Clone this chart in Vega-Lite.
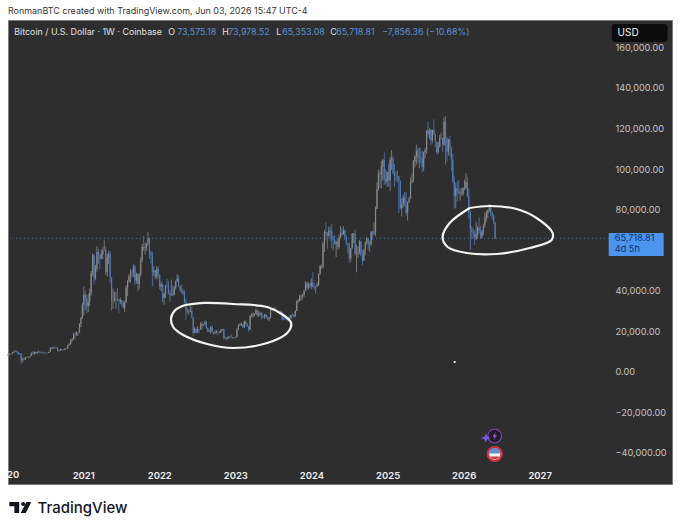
{"$schema":"https://vega.github.io/schema/vega-lite/v6.json","description":"Bitcoin weekly candles on a TradingView snapshot with two hand drawn rings","width":664,"height":464,"autosize":{"type":"none"},"padding":{"left":8,"top":20,"right":8,"bottom":46},"background":"#ffffff","view":{"fill":"#2e2e2e","stroke":"#7d7d7d","strokeWidth":1},
"title":{"text":"RonmanBTC created with TradingView.com, Jun 03, 2026 15:47 UTC-4","anchor":"start","frame":"group","offset":4,"fontSize":8.95,"fontWeight":"normal","font":"Inter","color":"#333333"},
"datasets":{
"candles":[
{"d":"2020-01-06","o":7760,"h":8860,"l":7670,"c":8180},{"d":"2020-01-13","o":8180,"h":8990,"l":8060,"c":8650},{"d":"2020-01-20","o":8650,"h":8800,"l":8250,"c":8600},{"d":"2020-01-27","o":8600,"h":9560,"l":8600,"c":9300},
{"d":"2020-02-03","o":9300,"h":9880,"l":9100,"c":9850},{"d":"2020-02-10","o":9850,"h":10500,"l":9700,"c":9900},{"d":"2020-02-17","o":9900,"h":10250,"l":9300,"c":9650},{"d":"2020-02-24","o":9650,"h":9700,"l":8400,"c":8530},
{"d":"2020-03-02","o":8530,"h":9190,"l":8450,"c":8900},{"d":"2020-03-09","o":8900,"h":8900,"l":3850,"c":5380},{"d":"2020-03-16","o":5380,"h":6900,"l":4450,"c":5830},{"d":"2020-03-23","o":5830,"h":6950,"l":5670,"c":5880},{"d":"2020-03-30","o":5880,"h":7200,"l":5860,"c":6770},
{"d":"2020-04-06","o":6770,"h":7460,"l":6770,"c":6860},{"d":"2020-04-13","o":6860,"h":7250,"l":6500,"c":7120},{"d":"2020-04-20","o":7120,"h":7770,"l":6800,"c":7700},{"d":"2020-04-27","o":7700,"h":9470,"l":7640,"c":8900},
{"d":"2020-05-04","o":8900,"h":10070,"l":8550,"c":8720},{"d":"2020-05-11","o":8720,"h":9950,"l":8120,"c":9680},{"d":"2020-05-18","o":9680,"h":9840,"l":8810,"c":8900},{"d":"2020-05-25","o":8900,"h":9740,"l":8640,"c":9450},
{"d":"2020-06-01","o":9450,"h":10400,"l":9300,"c":9670},{"d":"2020-06-08","o":9670,"h":10000,"l":9050,"c":9340},{"d":"2020-06-15","o":9340,"h":9590,"l":9000,"c":9300},{"d":"2020-06-22","o":9300,"h":9770,"l":8830,"c":9010},{"d":"2020-06-29","o":9010,"h":9300,"l":8900,"c":9070},
{"d":"2020-07-06","o":9070,"h":9450,"l":9020,"c":9300},{"d":"2020-07-13","o":9300,"h":9300,"l":9000,"c":9170},{"d":"2020-07-20","o":9170,"h":9800,"l":9100,"c":9700},{"d":"2020-07-27","o":9700,"h":12080,"l":9650,"c":11050},
{"d":"2020-08-03","o":11050,"h":11900,"l":10950,"c":11770},{"d":"2020-08-10","o":11770,"h":12070,"l":11150,"c":11850},{"d":"2020-08-17","o":11850,"h":12490,"l":11370,"c":11650},{"d":"2020-08-24","o":11650,"h":11800,"l":11150,"c":11700},{"d":"2020-08-31","o":11700,"h":12090,"l":9880,"c":10280},
{"d":"2020-09-07","o":10280,"h":10650,"l":9860,"c":10330},{"d":"2020-09-14","o":10330,"h":11170,"l":10200,"c":11080},{"d":"2020-09-21","o":11080,"h":11180,"l":10130,"c":10770},{"d":"2020-09-28","o":10770,"h":10950,"l":10370,"c":10670},
{"d":"2020-10-05","o":10670,"h":11500,"l":10520,"c":11380},{"d":"2020-10-12","o":11380,"h":11730,"l":11200,"c":11360},{"d":"2020-10-19","o":11360,"h":13240,"l":11350,"c":13030},{"d":"2020-10-26","o":13030,"h":14100,"l":12900,"c":13760},
{"d":"2020-11-02","o":13760,"h":15970,"l":13210,"c":15480},{"d":"2020-11-09","o":15480,"h":16490,"l":14830,"c":15980},{"d":"2020-11-16","o":15980,"h":18950,"l":15780,"c":18420},{"d":"2020-11-23","o":18420,"h":19480,"l":16200,"c":18180},{"d":"2020-11-30","o":18180,"h":19900,"l":17600,"c":19170},
{"d":"2020-12-07","o":19170,"h":19400,"l":17600,"c":19170},{"d":"2020-12-14","o":19170,"h":23800,"l":19000,"c":23480},{"d":"2020-12-21","o":23480,"h":27000,"l":21800,"c":26500},{"d":"2020-12-28","o":26500,"h":34000,"l":25800,"c":33000},
{"d":"2021-01-04","o":33000,"h":41950,"l":27700,"c":38200},{"d":"2021-01-11","o":38200,"h":40100,"l":30400,"c":36000},{"d":"2021-01-18","o":36000,"h":37850,"l":28850,"c":32100},{"d":"2021-01-25","o":32100,"h":38500,"l":29200,"c":34300},
{"d":"2021-02-01","o":34300,"h":41000,"l":32300,"c":39000},{"d":"2021-02-08","o":39000,"h":49700,"l":37400,"c":48600},{"d":"2021-02-15","o":48600,"h":58350,"l":47100,"c":57400},{"d":"2021-02-22","o":57400,"h":58000,"l":43000,"c":46200},
{"d":"2021-03-01","o":46200,"h":52640,"l":45000,"c":50900},{"d":"2021-03-08","o":50900,"h":61800,"l":49300,"c":59000},{"d":"2021-03-15","o":59000,"h":60600,"l":53200,"c":57400},{"d":"2021-03-22","o":57400,"h":58400,"l":50500,"c":55800},{"d":"2021-03-29","o":55800,"h":60200,"l":55500,"c":58000},
{"d":"2021-04-05","o":58000,"h":61300,"l":55500,"c":59800},{"d":"2021-04-12","o":59800,"h":64900,"l":59800,"c":60000},{"d":"2021-04-19","o":60000,"h":61700,"l":47500,"c":49000},{"d":"2021-04-26","o":49000,"h":58400,"l":47000,"c":56600},
{"d":"2021-05-03","o":56600,"h":59600,"l":53000,"c":58200},{"d":"2021-05-10","o":58200,"h":59600,"l":43800,"c":46400},{"d":"2021-05-17","o":46400,"h":46500,"l":30000,"c":34700},{"d":"2021-05-24","o":34700,"h":40900,"l":31000,"c":34700},{"d":"2021-05-31","o":34700,"h":39400,"l":34700,"c":35800},
{"d":"2021-06-07","o":35800,"h":39500,"l":31000,"c":35800},{"d":"2021-06-14","o":35800,"h":41300,"l":34800,"c":35600},{"d":"2021-06-21","o":35600,"h":35750,"l":28800,"c":34700},{"d":"2021-06-28","o":34700,"h":36600,"l":33300,"c":35300},
{"d":"2021-07-05","o":35300,"h":35300,"l":32100,"c":34200},{"d":"2021-07-12","o":34200,"h":34700,"l":31000,"c":31500},{"d":"2021-07-19","o":31500,"h":34800,"l":29300,"c":34200},{"d":"2021-07-26","o":34200,"h":42600,"l":34000,"c":41500},
{"d":"2021-08-02","o":41500,"h":45300,"l":37300,"c":44600},{"d":"2021-08-09","o":44600,"h":48100,"l":43800,"c":47000},{"d":"2021-08-16","o":47000,"h":50500,"l":43900,"c":49000},{"d":"2021-08-23","o":49000,"h":50500,"l":46300,"c":48900},{"d":"2021-08-30","o":48900,"h":52900,"l":46600,"c":51800},
{"d":"2021-09-06","o":51800,"h":52900,"l":42800,"c":45000},{"d":"2021-09-13","o":45000,"h":48800,"l":43400,"c":48300},{"d":"2021-09-20","o":48300,"h":48300,"l":39600,"c":43200},{"d":"2021-09-27","o":43200,"h":48500,"l":40800,"c":48200},
{"d":"2021-10-04","o":48200,"h":56500,"l":46900,"c":55000},{"d":"2021-10-11","o":55000,"h":62900,"l":54000,"c":61500},{"d":"2021-10-18","o":61500,"h":67000,"l":59500,"c":60900},{"d":"2021-10-25","o":60900,"h":63700,"l":57800,"c":61300},
{"d":"2021-11-01","o":61300,"h":63500,"l":59500,"c":63300},{"d":"2021-11-08","o":63300,"h":69000,"l":62300,"c":65500},{"d":"2021-11-15","o":65500,"h":66300,"l":55600,"c":58600},{"d":"2021-11-22","o":58600,"h":59500,"l":53300,"c":57300},{"d":"2021-11-29","o":57300,"h":59200,"l":42000,"c":49300},
{"d":"2021-12-06","o":49300,"h":51900,"l":47000,"c":50000},{"d":"2021-12-13","o":50000,"h":50100,"l":45500,"c":46700},{"d":"2021-12-20","o":46700,"h":52100,"l":45500,"c":50800},{"d":"2021-12-27","o":50800,"h":52000,"l":45700,"c":47700},
{"d":"2022-01-03","o":47700,"h":47900,"l":40500,"c":41800},{"d":"2022-01-10","o":41800,"h":44400,"l":39700,"c":43100},{"d":"2022-01-17","o":43100,"h":43500,"l":34000,"c":36300},{"d":"2022-01-24","o":36300,"h":38900,"l":32900,"c":38500},{"d":"2022-01-31","o":38500,"h":42600,"l":36300,"c":42400},
{"d":"2022-02-07","o":42400,"h":45900,"l":41600,"c":42200},{"d":"2022-02-14","o":42200,"h":44800,"l":38000,"c":38400},{"d":"2022-02-21","o":38400,"h":40100,"l":34300,"c":37700},{"d":"2022-02-28","o":37700,"h":45400,"l":37400,"c":38400},
{"d":"2022-03-07","o":38400,"h":42500,"l":37200,"c":37800},{"d":"2022-03-14","o":37800,"h":42300,"l":37600,"c":41300},{"d":"2022-03-21","o":41300,"h":45000,"l":40500,"c":44500},{"d":"2022-03-28","o":44500,"h":48200,"l":44400,"c":45800},
{"d":"2022-04-04","o":45800,"h":47400,"l":41900,"c":42100},{"d":"2022-04-11","o":42100,"h":42400,"l":39200,"c":40400},{"d":"2022-04-18","o":40400,"h":42900,"l":38600,"c":39700},{"d":"2022-04-25","o":39700,"h":40800,"l":37700,"c":38500},
{"d":"2022-05-02","o":38500,"h":40000,"l":33700,"c":34000},{"d":"2022-05-09","o":34000,"h":36000,"l":25400,"c":30100},{"d":"2022-05-16","o":30100,"h":31400,"l":28600,"c":29400},{"d":"2022-05-23","o":29400,"h":30600,"l":28000,"c":29400},{"d":"2022-05-30","o":29400,"h":32400,"l":29300,"c":29900},
{"d":"2022-06-06","o":29900,"h":31800,"l":26600,"c":26600},{"d":"2022-06-13","o":26600,"h":26900,"l":17600,"c":19000},{"d":"2022-06-20","o":19000,"h":21900,"l":19000,"c":21000},{"d":"2022-06-27","o":21000,"h":21500,"l":18600,"c":19300},
{"d":"2022-07-04","o":19300,"h":22500,"l":19000,"c":20900},{"d":"2022-07-11","o":20900,"h":21000,"l":18900,"c":20800},{"d":"2022-07-18","o":20800,"h":24200,"l":20700,"c":22600},{"d":"2022-07-25","o":22600,"h":24600,"l":20700,"c":23300},
{"d":"2022-08-01","o":23300,"h":23500,"l":22400,"c":23300},{"d":"2022-08-08","o":23300,"h":25200,"l":22700,"c":24300},{"d":"2022-08-15","o":24300,"h":25100,"l":20800,"c":21500},{"d":"2022-08-22","o":21500,"h":21800,"l":19500,"c":19600},{"d":"2022-08-29","o":19600,"h":20800,"l":19500,"c":20000},
{"d":"2022-09-05","o":20000,"h":22400,"l":18500,"c":21800},{"d":"2022-09-12","o":21800,"h":22800,"l":19300,"c":19400},{"d":"2022-09-19","o":19400,"h":19700,"l":18100,"c":18800},{"d":"2022-09-26","o":18800,"h":20300,"l":18500,"c":19000},
{"d":"2022-10-03","o":19000,"h":20500,"l":18900,"c":19400},{"d":"2022-10-10","o":19400,"h":19900,"l":18200,"c":19300},{"d":"2022-10-17","o":19300,"h":19700,"l":18900,"c":19600},{"d":"2022-10-24","o":19600,"h":21000,"l":19000,"c":20600},{"d":"2022-10-31","o":20600,"h":21000,"l":20100,"c":20900},
{"d":"2022-11-07","o":20900,"h":21100,"l":15700,"c":16300},{"d":"2022-11-14","o":16300,"h":17200,"l":16200,"c":16300},{"d":"2022-11-21","o":16300,"h":16900,"l":15500,"c":16450},{"d":"2022-11-28","o":16450,"h":17400,"l":16000,"c":17100},
{"d":"2022-12-05","o":17100,"h":17400,"l":16700,"c":17100},{"d":"2022-12-12","o":17100,"h":18400,"l":16500,"c":16800},{"d":"2022-12-19","o":16800,"h":17000,"l":16300,"c":16850},{"d":"2022-12-26","o":16850,"h":16900,"l":16300,"c":16600},
{"d":"2023-01-02","o":16600,"h":17200,"l":16500,"c":17100},{"d":"2023-01-09","o":17100,"h":21300,"l":17100,"c":20900},{"d":"2023-01-16","o":20900,"h":23400,"l":20400,"c":22700},{"d":"2023-01-23","o":22700,"h":23800,"l":22300,"c":23000},{"d":"2023-01-30","o":23000,"h":24300,"l":22500,"c":23300},
{"d":"2023-02-06","o":23300,"h":23400,"l":21400,"c":21800},{"d":"2023-02-13","o":21800,"h":25200,"l":21400,"c":24600},{"d":"2023-02-20","o":24600,"h":25300,"l":22800,"c":23600},{"d":"2023-02-27","o":23600,"h":23900,"l":21900,"c":22400},
{"d":"2023-03-06","o":22400,"h":22600,"l":19600,"c":20600},{"d":"2023-03-13","o":20600,"h":28000,"l":20500,"c":27400},{"d":"2023-03-20","o":27400,"h":28900,"l":26600,"c":27500},{"d":"2023-03-27","o":27500,"h":29200,"l":26500,"c":28000},
{"d":"2023-04-03","o":28000,"h":28800,"l":27200,"c":28300},{"d":"2023-04-10","o":28300,"h":31000,"l":28200,"c":30300},{"d":"2023-04-17","o":30300,"h":30500,"l":27100,"c":27600},{"d":"2023-04-24","o":27600,"h":30000,"l":26900,"c":28800},
{"d":"2023-05-01","o":28800,"h":29300,"l":27700,"c":28900},{"d":"2023-05-08","o":28900,"h":29200,"l":25800,"c":26800},{"d":"2023-05-15","o":26800,"h":27600,"l":26400,"c":26750},{"d":"2023-05-22","o":26750,"h":28400,"l":25900,"c":28100},{"d":"2023-05-29","o":28100,"h":28400,"l":26500,"c":27100},
{"d":"2023-06-05","o":27100,"h":27400,"l":25400,"c":25850},{"d":"2023-06-12","o":25850,"h":26800,"l":24800,"c":26300},{"d":"2023-06-19","o":26300,"h":31400,"l":26250,"c":30500},{"d":"2023-06-26","o":30500,"h":31000,"l":29900,"c":30600},
{"d":"2023-07-03","o":30600,"h":31400,"l":29700,"c":30300},{"d":"2023-07-10","o":30300,"h":31800,"l":29900,"c":30300},{"d":"2023-07-17","o":30300,"h":30400,"l":29500,"c":29800},{"d":"2023-07-24","o":29800,"h":30000,"l":29000,"c":29300},{"d":"2023-07-31","o":29300,"h":30000,"l":28600,"c":29050},
{"d":"2023-08-07","o":29050,"h":30200,"l":28700,"c":29300},{"d":"2023-08-14","o":29300,"h":29700,"l":25200,"c":26000},{"d":"2023-08-21","o":26000,"h":26800,"l":25400,"c":26100},{"d":"2023-08-28","o":26100,"h":28100,"l":25300,"c":25900},
{"d":"2023-09-04","o":25900,"h":26100,"l":25400,"c":25800},{"d":"2023-09-11","o":25800,"h":26900,"l":24900,"c":26500},{"d":"2023-09-18","o":26500,"h":27500,"l":26000,"c":26300},{"d":"2023-09-25","o":26300,"h":28100,"l":26000,"c":28000},
{"d":"2023-10-02","o":28000,"h":28600,"l":27200,"c":27900},{"d":"2023-10-09","o":27900,"h":28300,"l":26500,"c":27200},{"d":"2023-10-16","o":27200,"h":30400,"l":27100,"c":29900},{"d":"2023-10-23","o":29900,"h":35200,"l":29700,"c":34500},{"d":"2023-10-30","o":34500,"h":35900,"l":33900,"c":35000},
{"d":"2023-11-06","o":35000,"h":38000,"l":34600,"c":37100},{"d":"2023-11-13","o":37100,"h":37900,"l":34800,"c":37400},{"d":"2023-11-20","o":37400,"h":38400,"l":35600,"c":37700},{"d":"2023-11-27","o":37700,"h":40200,"l":36800,"c":39950},
{"d":"2023-12-04","o":39950,"h":44700,"l":39900,"c":43800},{"d":"2023-12-11","o":43800,"h":44000,"l":40200,"c":41300},{"d":"2023-12-18","o":41300,"h":44300,"l":40500,"c":43000},{"d":"2023-12-25","o":43000,"h":43800,"l":41300,"c":42200},
{"d":"2024-01-01","o":42200,"h":45900,"l":40700,"c":43900},{"d":"2024-01-08","o":43900,"h":49000,"l":41500,"c":41700},{"d":"2024-01-15","o":41700,"h":43600,"l":40300,"c":41600},{"d":"2024-01-22","o":41600,"h":42200,"l":38500,"c":42000},{"d":"2024-01-29","o":42000,"h":43900,"l":41900,"c":43000},
{"d":"2024-02-05","o":43000,"h":48500,"l":42300,"c":48300},{"d":"2024-02-12","o":48300,"h":52800,"l":47700,"c":52100},{"d":"2024-02-19","o":52100,"h":52900,"l":50600,"c":51700},{"d":"2024-02-26","o":51700,"h":64000,"l":50900,"c":63100},
{"d":"2024-03-04","o":63100,"h":70000,"l":59000,"c":68900},{"d":"2024-03-11","o":68900,"h":73800,"l":64600,"c":68300},{"d":"2024-03-18","o":68300,"h":68900,"l":60700,"c":67200},{"d":"2024-03-25","o":67200,"h":71600,"l":66400,"c":69700},
{"d":"2024-04-01","o":69700,"h":71300,"l":64500,"c":69300},{"d":"2024-04-08","o":69300,"h":72800,"l":60700,"c":65600},{"d":"2024-04-15","o":65600,"h":66900,"l":59600,"c":64900},{"d":"2024-04-22","o":64900,"h":67300,"l":62400,"c":63100},{"d":"2024-04-29","o":63100,"h":64700,"l":56500,"c":64000},
{"d":"2024-05-06","o":64000,"h":65500,"l":60200,"c":61500},{"d":"2024-05-13","o":61500,"h":67700,"l":60700,"c":66300},{"d":"2024-05-20","o":66300,"h":71900,"l":66100,"c":68500},{"d":"2024-05-27","o":68500,"h":70600,"l":66700,"c":67700},
{"d":"2024-06-03","o":67700,"h":71900,"l":67500,"c":69700},{"d":"2024-06-10","o":69700,"h":70200,"l":65000,"c":66600},{"d":"2024-06-17","o":66600,"h":67300,"l":62400,"c":63200},{"d":"2024-06-24","o":63200,"h":63300,"l":58400,"c":62700},
{"d":"2024-07-01","o":62700,"h":63800,"l":53500,"c":55800},{"d":"2024-07-08","o":55800,"h":61000,"l":54300,"c":60800},{"d":"2024-07-15","o":60800,"h":68400,"l":60700,"c":68100},{"d":"2024-07-22","o":68100,"h":68500,"l":63400,"c":68200},{"d":"2024-07-29","o":68200,"h":70000,"l":57200,"c":58100},
{"d":"2024-08-05","o":58100,"h":62700,"l":49000,"c":58700},{"d":"2024-08-12","o":58700,"h":61800,"l":56100,"c":58900},{"d":"2024-08-19","o":58900,"h":65000,"l":57800,"c":64200},{"d":"2024-08-26","o":64200,"h":64500,"l":57200,"c":57300},
{"d":"2024-09-02","o":57300,"h":59800,"l":52500,"c":54800},{"d":"2024-09-09","o":54800,"h":60700,"l":54600,"c":60000},{"d":"2024-09-16","o":60000,"h":64100,"l":57500,"c":63600},{"d":"2024-09-23","o":63600,"h":66500,"l":62700,"c":65800},{"d":"2024-09-30","o":65800,"h":66000,"l":59900,"c":62800},
{"d":"2024-10-07","o":62800,"h":64500,"l":58900,"c":62900},{"d":"2024-10-14","o":62900,"h":69400,"l":62100,"c":69000},{"d":"2024-10-21","o":69000,"h":69500,"l":65100,"c":68000},{"d":"2024-10-28","o":68000,"h":73600,"l":67500,"c":68700},
{"d":"2024-11-04","o":68700,"h":81500,"l":66800,"c":80400},{"d":"2024-11-11","o":80400,"h":93500,"l":80200,"c":89900},{"d":"2024-11-18","o":89900,"h":99800,"l":89400,"c":97700},{"d":"2024-11-25","o":97700,"h":98900,"l":90700,"c":97200},
{"d":"2024-12-02","o":97200,"h":104000,"l":90500,"c":101200},{"d":"2024-12-09","o":101200,"h":105000,"l":94200,"c":104400},{"d":"2024-12-16","o":104400,"h":108300,"l":92200,"c":95200},{"d":"2024-12-23","o":95200,"h":99900,"l":92500,"c":93700},{"d":"2024-12-30","o":93700,"h":98900,"l":91300,"c":98300},
{"d":"2025-01-06","o":98300,"h":102700,"l":91200,"c":94500},{"d":"2025-01-13","o":94500,"h":106000,"l":89200,"c":104500},{"d":"2025-01-20","o":104500,"h":109300,"l":99500,"c":105100},{"d":"2025-01-27","o":105100,"h":106400,"l":97700,"c":97700},
{"d":"2025-02-03","o":97700,"h":102500,"l":91200,"c":96500},{"d":"2025-02-10","o":96500,"h":98800,"l":94100,"c":96500},{"d":"2025-02-17","o":96500,"h":99500,"l":93300,"c":96300},{"d":"2025-02-24","o":96300,"h":96500,"l":78200,"c":94200},
{"d":"2025-03-03","o":94200,"h":94400,"l":80000,"c":80700},{"d":"2025-03-10","o":80700,"h":85300,"l":76600,"c":82600},{"d":"2025-03-17","o":82600,"h":87400,"l":81100,"c":86100},{"d":"2025-03-24","o":86100,"h":88800,"l":81600,"c":82400},{"d":"2025-03-31","o":82400,"h":88500,"l":77000,"c":78400},
{"d":"2025-04-07","o":78400,"h":84000,"l":74500,"c":83700},{"d":"2025-04-14","o":83700,"h":86500,"l":83100,"c":85200},{"d":"2025-04-21","o":85200,"h":95800,"l":85100,"c":93700},{"d":"2025-04-28","o":93700,"h":97700,"l":92800,"c":94300},
{"d":"2025-05-05","o":94300,"h":104400,"l":93400,"c":104000},{"d":"2025-05-12","o":104000,"h":106600,"l":100700,"c":106400},{"d":"2025-05-19","o":106400,"h":112000,"l":102100,"c":109000},{"d":"2025-05-26","o":109000,"h":110400,"l":103100,"c":105600},
{"d":"2025-06-02","o":105600,"h":110500,"l":100400,"c":105700},{"d":"2025-06-09","o":105700,"h":110400,"l":102700,"c":105500},{"d":"2025-06-16","o":105500,"h":108900,"l":98200,"c":100900},{"d":"2025-06-23","o":100900,"h":108500,"l":99000,"c":108400},{"d":"2025-06-30","o":108400,"h":110500,"l":105100,"c":109200},
{"d":"2025-07-07","o":109200,"h":119000,"l":107500,"c":119000},{"d":"2025-07-14","o":119000,"h":123200,"l":115800,"c":117300},{"d":"2025-07-21","o":117300,"h":120200,"l":114700,"c":119400},{"d":"2025-07-28","o":119400,"h":119800,"l":111900,"c":114200},
{"d":"2025-08-04","o":114200,"h":119300,"l":112700,"c":119300},{"d":"2025-08-11","o":119300,"h":124500,"l":116900,"c":117400},{"d":"2025-08-18","o":117400,"h":117600,"l":110700,"c":113500},{"d":"2025-08-25","o":113500,"h":113600,"l":107300,"c":108300},
{"d":"2025-09-01","o":108300,"h":113300,"l":107300,"c":111100},{"d":"2025-09-08","o":111100,"h":116800,"l":110600,"c":115300},{"d":"2025-09-15","o":115300,"h":117900,"l":114700,"c":115300},{"d":"2025-09-22","o":115300,"h":115400,"l":108600,"c":112100},{"d":"2025-09-29","o":112100,"h":125500,"l":111500,"c":123500},
{"d":"2025-10-06","o":123500,"h":126200,"l":102000,"c":115100},{"d":"2025-10-13","o":115100,"h":115900,"l":103500,"c":108600},{"d":"2025-10-20","o":108600,"h":115000,"l":106700,"c":114500},{"d":"2025-10-27","o":114500,"h":116400,"l":106200,"c":110500},
{"d":"2025-11-03","o":110500,"h":110800,"l":98900,"c":104700},{"d":"2025-11-10","o":104700,"h":107500,"l":93000,"c":94000},{"d":"2025-11-17","o":94000,"h":96500,"l":80500,"c":86800},{"d":"2025-11-24","o":86800,"h":93000,"l":80600,"c":90400},
{"d":"2025-12-01","o":90400,"h":94000,"l":83800,"c":89000},{"d":"2025-12-08","o":89000,"h":94500,"l":87500,"c":88000},{"d":"2025-12-15","o":88000,"h":90500,"l":84400,"c":88500},{"d":"2025-12-22","o":88500,"h":90600,"l":86500,"c":87800},{"d":"2025-12-29","o":87800,"h":91000,"l":86800,"c":90500},
{"d":"2026-01-05","o":90500,"h":94800,"l":89500,"c":90500},{"d":"2026-01-12","o":90500,"h":97900,"l":90000,"c":93600},{"d":"2026-01-19","o":93600,"h":96000,"l":86000,"c":86600},{"d":"2026-01-26","o":86600,"h":90500,"l":75700,"c":78700},
{"d":"2026-02-02","o":78700,"h":79500,"l":60000,"c":70300},{"d":"2026-02-09","o":70300,"h":72000,"l":65200,"c":68800},{"d":"2026-02-16","o":68800,"h":70900,"l":65700,"c":68000},{"d":"2026-02-23","o":68000,"h":69500,"l":62500,"c":66000},
{"d":"2026-03-02","o":66000,"h":74000,"l":65000,"c":68000},{"d":"2026-03-09","o":68000,"h":72000,"l":65500,"c":71000},{"d":"2026-03-16","o":71000,"h":76000,"l":68000,"c":69500},{"d":"2026-03-23","o":69500,"h":72000,"l":65500,"c":66500},{"d":"2026-03-30","o":66500,"h":70000,"l":65500,"c":69000},
{"d":"2026-04-06","o":69000,"h":73000,"l":67500,"c":72500},{"d":"2026-04-13","o":72500,"h":78500,"l":71000,"c":76000},{"d":"2026-04-20","o":76000,"h":79500,"l":74000,"c":78000},{"d":"2026-04-27","o":78000,"h":80000,"l":75500,"c":79500},
{"d":"2026-05-04","o":79500,"h":82800,"l":78500,"c":81000},{"d":"2026-05-11","o":81000,"h":82500,"l":76500,"c":78500},{"d":"2026-05-18","o":78500,"h":79000,"l":75000,"c":77000},{"d":"2026-05-25","o":77000,"h":77800,"l":72800,"c":73575.18},
{"d":"2026-06-01","o":73575.18,"h":73978.52,"l":65353.08,"c":65718.81}],
"rings":[
{"g":"a","n":1,"d":"2022-05-06","p":32840},{"g":"a","n":2,"d":"2022-07-17","p":33800},{"g":"a","n":3,"d":"2022-12-22","p":33330},{"g":"a","n":4,"d":"2023-06-03","p":31850},{"g":"a","n":5,"d":"2023-08-19","p":27900},{"g":"a","n":6,"d":"2023-09-26","p":23950},{"g":"a","n":7,"d":"2023-09-07","p":19010},{"g":"a","n":8,"d":"2023-06-03","p":14070},{"g":"a","n":9,"d":"2022-12-22","p":11600},{"g":"a","n":10,"d":"2022-08-19","p":13580},{"g":"a","n":11,"d":"2022-04-26","p":18020},{"g":"a","n":12,"d":"2022-03-09","p":21970},{"g":"a","n":13,"d":"2022-02-27","p":26420},{"g":"a","n":14,"d":"2022-03-19","p":30370},{"g":"a","n":15,"d":"2022-05-06","p":32840},
{"g":"b","n":1,"d":"2026-01-30","p":80740},{"g":"b","n":2,"d":"2026-05-06","p":81720},{"g":"b","n":3,"d":"2026-09-12","p":80240},{"g":"b","n":4,"d":"2026-12-17","p":75800},{"g":"b","n":5,"d":"2027-03-04","p":68390},{"g":"b","n":6,"d":"2027-02-27","p":64930},{"g":"b","n":7,"d":"2026-11-14","p":60980},{"g":"b","n":8,"d":"2026-06-08","p":58020},{"g":"b","n":9,"d":"2026-01-15","p":58520},{"g":"b","n":10,"d":"2025-10-16","p":61480},{"g":"b","n":11,"d":"2025-09-22","p":66420},{"g":"b","n":12,"d":"2025-10-26","p":73330},{"g":"b","n":13,"d":"2026-01-30","p":80740}],
"headerPlain":[
{"d":"2020-02-05","p":167650,"txt":"Bitcoin / U.S. Dollar · 1W · Coinbase"},{"d":"2022-02-13","p":167650,"txt":"O"},{"d":"2022-10-30","p":167650,"txt":"H"},{"d":"2023-07-16","p":167650,"txt":"L"},{"d":"2024-04-01","p":167650,"txt":"C"}],
"headerBlue":[
{"d":"2022-03-28","p":167650,"txt":"73,575.18"},{"d":"2022-11-28","p":167650,"txt":"73,978.52"},{"d":"2023-08-14","p":167650,"txt":"65,353.08"},{"d":"2024-04-29","p":167650,"txt":"65,718.81"},{"d":"2024-12-06","p":167650,"txt":"−7,856.36 (−10.68%)"}],
"tagText":[{"d":"2027-12-27","p":65700,"txt":"65,718.81"},{"d":"2027-12-27","p":60490,"txt":"4d 5h"}]
},
"encoding":{
"x":{"field":"d","type":"temporal","scale":{"type":"utc","domain":["2020-01-06","2028-09-27"],"padding":0,"nice":false},"axis":{"values":[{"year":2021,"utc":true},{"year":2022,"utc":true},{"year":2023,"utc":true},{"year":2024,"utc":true},{"year":2025,"utc":true},{"year":2026,"utc":true},{"year":2027,"utc":true}],"format":"%Y","formatType":"utc","grid":false,"ticks":false,"domain":false,"labelPadding":-9,"labelBaseline":"middle","labelAngle":0,"labelColor":"#f0f0f0","labelFont":"Inter","labelFontSize":9.5,"labelFontWeight":600,"title":"TradingView","titleAnchor":"start","titleAlign":"left","titleBaseline":"middle","titleX":29,"titleY":23.5,"titleFont":"Inter","titleFontSize":15,"titleFontWeight":500,"titleColor":"#131722"}},
"y":{"field":"p","type":"quantitative","scale":{"domain":[-55555,173580],"nice":false,"zero":false},"axis":{"orient":"right","offset":-57,"values":[-40000,-20000,0,20000,40000,80000,100000,120000,140000,160000],"format":",.2f","grid":false,"ticks":false,"domain":false,"labelPadding":0,"labelAlign":"left","labelColor":"#c4c4c4","labelFont":"Inter","labelFontSize":9.2,"title":null}}
},
"layer":[
{"data":{"values":[{"d":"2020-01-06","d2":"2027-11-28","p":65718.81}]},"mark":{"type":"rule","color":"#4f7ab8","strokeWidth":1,"strokeDash":[1,3],"opacity":0.85},"encoding":{"x2":{"field":"d2"}}},
{"data":{"name":"candles"},"mark":{"type":"rule","strokeWidth":0.8},"encoding":{"y":{"field":"l","type":"quantitative","title":null,"scale":{"domain":[-55555,173580],"nice":false,"zero":false}},"y2":{"field":"h"},"color":{"condition":{"test":"datum.c>=datum.o","value":"#8a8a8a"},"value":"#4f7ab8"}}},
{"data":{"name":"candles"},"mark":{"type":"bar","width":1.2},"encoding":{"y":{"field":"o","type":"quantitative","title":null,"scale":{"domain":[-55555,173580],"nice":false,"zero":false}},"y2":{"field":"c"},"color":{"condition":{"test":"datum.c>=datum.o","value":"#8a8a8a"},"value":"#4f7ab8"}}},
{"data":{"name":"rings"},"mark":{"type":"line","color":"#f4f4f0","strokeWidth":2.2,"interpolate":"catmull-rom"},"encoding":{"detail":{"field":"g"},"order":{"field":"n","type":"quantitative"}}},
{"data":{"name":"headerPlain"},"mark":{"type":"text","align":"left","baseline":"middle","font":"Inter","fontSize":8.9,"color":"#e0e0e0"},"encoding":{"text":{"field":"txt"}}},
{"data":{"name":"headerBlue"},"mark":{"type":"text","align":"left","baseline":"middle","font":"Inter","fontSize":8.9,"color":"#5b8fd6"},"encoding":{"text":{"field":"txt"}}},
{"data":{"values":[{"d":"2020-01-01","p":-51100,"txt":"2020"}]},"mark":{"type":"text","clip":true,"baseline":"middle","font":"Inter","fontSize":9.5,"fontWeight":600,"color":"#f0f0f0"},"encoding":{"text":{"field":"txt"}}},
{"data":{"values":[{"d":"2027-11-28","d2":"2028-08-18","p":68390,"p2":57030}]},"mark":{"type":"rect","color":"#4c94ef","cornerRadius":1},"encoding":{"x2":{"field":"d2"},"y2":{"field":"p2"}}},
{"data":{"name":"tagText"},"mark":{"type":"text","align":"left","baseline":"middle","font":"Inter","fontSize":9.2,"color":"#12335f"},"encoding":{"text":{"field":"txt"}}},
{"data":{"values":[{"d":"2027-12-13","d2":"2028-09-06","p":171600,"p2":162700}]},"mark":{"type":"rect","color":"#0d0d0d","cornerRadius":3},"encoding":{"x2":{"field":"d2"},"y2":{"field":"p2"}}},
{"data":{"values":[{"d":"2028-01-10","p":167150,"txt":"USD"}]},"mark":{"type":"text","align":"left","baseline":"middle","font":"Inter","fontSize":10,"color":"#f4f4f4"},"encoding":{"text":{"field":"txt"}}},
{"data":{"values":[{"d":"2025-11-19","p":4690}]},"mark":{"type":"point","shape":"circle","filled":true,"size":5,"color":"#ffffff","opacity":1}},
{"data":{"values":[{"d":"2026-05-30","p":-31850}]},"mark":{"type":"point","shape":"circle","size":190,"fill":"#1e1e1e","fillOpacity":1,"stroke":"#7b3fb3","strokeWidth":1.4,"opacity":1}},
{"data":{"values":[{"d":"2026-05-30","p":-31850}]},"mark":{"type":"point","shape":"M0.15,-0.5 L-0.3,0.08 L-0.02,0.08 L-0.15,0.5 L0.3,-0.1 L0.03,-0.1 Z","size":256,"filled":true,"color":"#a14fd6","strokeWidth":0,"opacity":1}},
{"data":{"values":[{"d":"2026-04-17","p":-32840}]},"mark":{"type":"point","shape":"M0,-0.5 L0.14,-0.14 L0.5,0 L0.14,0.14 L0,0.5 L-0.14,0.14 L-0.5,0 L-0.14,-0.14 Z","size":360,"filled":true,"color":"#7b5cf0","strokeWidth":0,"opacity":1}},
{"data":{"values":[{"d":"2026-05-30","p":-40740}]},"mark":{"type":"point","shape":"circle","size":190,"fill":"#f2f2f2","fillOpacity":1,"stroke":"#d2323c","strokeWidth":2.4,"opacity":1}},
{"data":{"values":[{"d":"2026-05-30","p":-40740}]},"mark":{"type":"point","shape":"M-0.5,-0.05 A0.5,0.5 0 0,1 0.5,-0.05 Z","size":480,"filled":true,"color":"#5f8fd8","strokeWidth":0,"opacity":1}},
{"data":{"values":[{"d":"2026-05-30","p":-40740}]},"mark":{"type":"point","shape":"M-0.43,0.22 H0.43 A0.5,0.5 0 0,1 -0.43,0.22 Z","size":480,"filled":true,"color":"#d2323c","strokeWidth":0,"opacity":1}},
{"data":{"values":[{"d":"2020-03-05","p":-67160}]},"mark":{"type":"point","shape":"M-0.5,-0.25 H-0.05 V0.25 H-0.27 V-0.06 H-0.5 Z M0.04,-0.16 A0.09,0.09 0 1,0 0.22,-0.16 A0.09,0.09 0 1,0 0.04,-0.16 Z M0.28,-0.25 H0.5 L0.25,0.25 H0.02 Z","size":1936,"filled":true,"color":"#131722","strokeWidth":0,"opacity":1}}
]}
